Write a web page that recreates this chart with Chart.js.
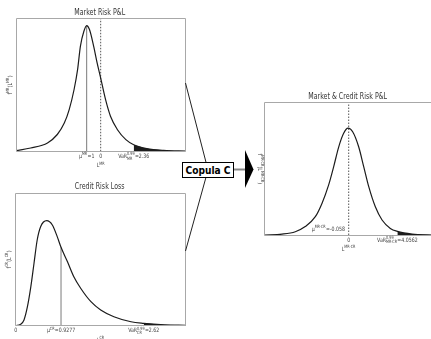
<!DOCTYPE html>
<html>
<head>
<meta charset="utf-8">
<script src="https://cdn.jsdelivr.net/npm/chart.js@4.4.0/dist/chart.umd.min.js"></script>
<style>
  html, body { margin: 0; padding: 0; background: #fff; overflow: hidden; }
  body { width: 431px; height: 339px; position: relative; }
  .box { position: absolute; }
  svg { position: absolute; left: 0; top: 0; }
</style>
</head>
<body>
<div class="box" style="left:0;top:0;width:200px;height:170px"><canvas id="mr"></canvas></div>
<div class="box" style="left:0;top:170px;width:200px;height:169px"><canvas id="cr"></canvas></div>
<div class="box" style="left:240px;top:80px;width:200px;height:180px"><canvas id="mc"></canvas></div>
<svg width="431" height="339" viewBox="0 0 431 339">
  <line x1="185.5" y1="83" x2="208" y2="170" stroke="#222" stroke-width="1"/>
  <line x1="208" y1="170" x2="185.5" y2="251" stroke="#222" stroke-width="1"/>
  <line x1="233" y1="169.5" x2="246" y2="169.5" stroke="#888" stroke-width="2"/>
  <polygon points="245,150 253.5,169.5 245,188" fill="#000"/>
  <rect x="182.5" y="162.5" width="51" height="15" fill="#fff" stroke="#000"/>
  <text x="208" y="174" text-anchor="middle" font-family="DejaVu Sans" font-weight="bold" font-size="11" textLength="45" lengthAdjust="spacingAndGlyphs">Copula C</text>
</svg>
<script>
// Market risk P&L density
const mrX = [-6.05, -5, -3.8, -3.1, -2.6, -2.25, -1.9, -1.65, -1.45, -1.2, -1, -0.8, -0.5, -0.25, 0, 0.35, 0.7, 1.2, 1.8, 2.36, 3.3, 4.5, 6.1];
const mrY = [0.002, 0.011, 0.028, 0.056, 0.094, 0.139, 0.206, 0.272, 0.35, 0.40, 0.419, 0.406, 0.35, 0.294, 0.244, 0.172, 0.117, 0.072, 0.039, 0.022, 0.009, 0.003, 0.001];
const mrMu = -1;
const mrVaR = 2.36;

// Credit risk loss density
const crX = [0, 0.1, 0.17, 0.24, 0.31, 0.375, 0.44, 0.51, 0.635, 0.75, 0.85, 0.9277, 1.06, 1.19, 1.33, 1.54, 1.74, 2.01, 2.36, 2.62, 3.04, 3.48];
const crY = [0, 0.012, 0.048, 0.158, 0.325, 0.52, 0.714, 0.825, 0.875, 0.839, 0.742, 0.653, 0.533, 0.408, 0.312, 0.2, 0.131, 0.075, 0.033, 0.02, 0.008, 0.003];
const crMu = 0.9277;
const crVaR = 2.62;

// Combined market & credit P&L density
const mcX = [-7, -5.56, -4.45, -3.62, -2.78, -2.22, -1.67, -1.25, -0.83, -0.42, -0.058, 0.33, 0.83, 1.25, 1.67, 2.22, 2.78, 3.47, 4.0562, 5.28, 7];
const mcY = [0, 0.003, 0.011, 0.028, 0.061, 0.106, 0.167, 0.228, 0.294, 0.339, 0.356, 0.344, 0.294, 0.228, 0.161, 0.094, 0.05, 0.022, 0.012, 0.003, 0];
const mcMu = -0.058;
const mcVaR = 4.0562;

const FONT = '"DejaVu Sans"';

function richWidth(ctx, parts, size) {
  let w = 0;
  for (const p of parts) {
    if (typeof p === 'string') {
      ctx.font = size + 'px ' + FONT;
      w += ctx.measureText(p).width;
    } else {
      ctx.font = (size * 0.72) + 'px ' + FONT;
      const a = p.sup ? ctx.measureText(p.sup).width : 0;
      const b = p.sub ? ctx.measureText(p.sub).width : 0;
      w += Math.max(a, b) + 0.4;
    }
  }
  return w;
}

function drawRich(ctx, parts, x, y, o) {
  const size = o.size || 6;
  ctx.save();
  ctx.translate(x, y);
  if (o.rot) ctx.rotate(o.rot);
  ctx.scale(o.sx || 0.78, 1);
  const w = richWidth(ctx, parts, size);
  let cx = o.align === 'right' ? -w : (o.align === 'left' ? 0 : -w / 2);
  ctx.fillStyle = o.color || '#444';
  ctx.textAlign = 'left';
  ctx.textBaseline = 'alphabetic';
  for (const p of parts) {
    if (typeof p === 'string') {
      ctx.font = size + 'px ' + FONT;
      ctx.fillText(p, cx, 0);
      cx += ctx.measureText(p).width;
    } else {
      const s = size * 0.72;
      ctx.font = s + 'px ' + FONT;
      let a = 0, b = 0;
      if (p.sup) { ctx.fillText(p.sup, cx, -size * 0.45); a = ctx.measureText(p.sup).width; }
      if (p.sub) { ctx.fillText(p.sub, cx, size * 0.3); b = ctx.measureText(p.sub).width; }
      cx += Math.max(a, b) + 0.4;
    }
  }
  ctx.restore();
}

// frame, title, tick labels and axis titles
const decor = {
  id: 'decor',
  afterDraw(chart, args, opts) {
    const ctx = chart.ctx;
    const a = chart.chartArea;
    const xs = chart.scales.x;
    ctx.save();
    ctx.strokeStyle = '#a8a8a8';
    ctx.lineWidth = 1;
    ctx.beginPath();
    const l = Math.floor(a.left) + 0.5, r = Math.floor(a.right) + 0.5;
    const t = Math.floor(a.top) + 0.5, b = Math.floor(a.bottom) + 0.5;
    ctx.moveTo(l, t); ctx.lineTo(r, t); ctx.lineTo(r, b); ctx.lineTo(l, b); ctx.closePath();
    ctx.stroke();
    ctx.restore();

    const cxm = (a.left + a.right) / 2;
    drawRich(ctx, [opts.title], cxm - 1, a.top - 4, { size: 9, sx: 0.7, color: '#333' });
    for (const tk of opts.ticks) {
      drawRich(ctx, tk.parts, xs.getPixelForValue(tk.value) + (tk.dx || 0), tk.y !== undefined ? tk.y : a.bottom + 6.5, { size: 6, align: tk.align, color: '#444' });
    }
    drawRich(ctx, opts.xTitle, cxm, a.bottom + 16, { size: 6, color: '#444' });
    const cym = (a.top + a.bottom) / 2;
    if (opts.yRight) {
      drawRich(ctx, opts.yTitle, opts.yX, cym, { size: 6, rot: Math.PI / 2, color: '#444' });
    } else {
      drawRich(ctx, opts.yTitle, opts.yX, cym, { size: 6, rot: -Math.PI / 2, color: '#444' });
    }
  }
};

function pts(xs, ys) { return xs.map((x, i) => ({ x: x, y: ys[i] })); }

function makeChart(id, xs, ys, mu, varX, cfg) {
  const curve = pts(xs, ys);
  const tail = curve.filter(p => p.x >= varX);
  const datasets = [
    { data: tail, showLine: true, fill: 'origin', backgroundColor: '#1c1c1c', borderWidth: 0, pointRadius: 0, cubicInterpolationMode: 'monotone' },
    { data: curve, showLine: true, fill: false, borderColor: '#1c1c1c', borderWidth: 1.2, pointRadius: 0, cubicInterpolationMode: 'monotone' }
  ];
  if (cfg.muLine) {
    const i = xs.indexOf(mu);
    datasets.push({ data: [{ x: mu, y: 0 }, { x: mu, y: ys[i] }], showLine: true, borderColor: '#7a7a7a', borderWidth: 1, pointRadius: 0 });
  }
  if (cfg.zeroLine) {
    datasets.push({ data: [{ x: 0, y: 0 }, { x: 0, y: cfg.yMax }], showLine: true, borderColor: '#555', borderWidth: 1, borderDash: [1.5, 1.5], pointRadius: 0 });
  }
  return new Chart(document.getElementById(id), {
    type: 'scatter',
    data: { datasets: datasets },
    plugins: [decor],
    options: {
      responsive: true,
      maintainAspectRatio: false,
      animation: false,
      layout: { padding: cfg.padding },
      scales: {
        x: { type: 'linear', min: cfg.xMin, max: cfg.xMax, display: false },
        y: { min: 0, max: cfg.yMax, display: false }
      },
      plugins: {
        legend: { display: false },
        tooltip: { enabled: false },
        decor: cfg.decor
      }
    }
  });
}

makeChart('mr', mrX, mrY, mrMu, mrVaR, {
  muLine: true, zeroLine: true,
  xMin: -6.05, xMax: 6.06, yMax: 0.442,
  padding: { left: 16, top: 18.7, right: 14.5, bottom: 18.7 },
  decor: {
    title: 'Market Risk P&L',
    ticks: [
      { value: mrMu, parts: ['μ', { sup: 'MR' }, '=1'] },
      { value: 0, parts: ['0'] },
      { value: mrVaR, parts: ['VaR', { sup: '0.99', sub: 'MR' }, '=2.36'] }
    ],
    xTitle: ['L', { sup: 'MR' }],
    yTitle: ['f', { sup: 'MR' }, '(L', { sup: 'MR' }, ')'],
    yX: 11.5
  }
});

makeChart('cr', crX, crY, crMu, crVaR, {
  muLine: true, zeroLine: false,
  xMin: 0, xMax: 3.48, yMax: 1.103,
  padding: { left: 15.7, top: 23.3, right: 14.3, bottom: 13.3 },
  decor: {
    title: 'Credit Risk Loss',
    ticks: [
      { value: 0, parts: ['0'] },
      { value: crMu, parts: ['μ', { sup: 'CR' }, '=0.9277'] },
      { value: crVaR, parts: ['VaR', { sup: '0.99', sub: 'CR' }, '=2.62'] }
    ],
    xTitle: ['L', { sup: 'CR' }],
    yTitle: ['f', { sup: 'CR' }, '(L', { sup: 'CR' }, ')'],
    yX: 11
  }
});

makeChart('mc', mcX, mcY, mcMu, mcVaR, {
  muLine: false, zeroLine: true,
  xMin: -7, xMax: 7, yMax: 0.441,
  padding: { left: 24.7, top: 22.7, right: 7.3, bottom: 25 },
  decor: {
    title: 'Market & Credit Risk P&L',
    ticks: [
      { value: 0, parts: ['0'] },
      { value: mcVaR, parts: ['VaR', { sup: '0.99', sub: 'MR-CR' }, '=4.0562'] },
      { value: mcMu, parts: ['μ', { sup: 'MR-CR' }, '=-0.058'], align: 'right', dx: -3, y: 151 }
    ],
    xTitle: ['L', { sup: 'MR-CR' }],
    yTitle: ['f', { sup: 'MR-CR' }, '(L', { sup: 'MR-CR' }, ')'],
    yX: 18,
    yRight: true
  }
});
</script>
</body>
</html>
